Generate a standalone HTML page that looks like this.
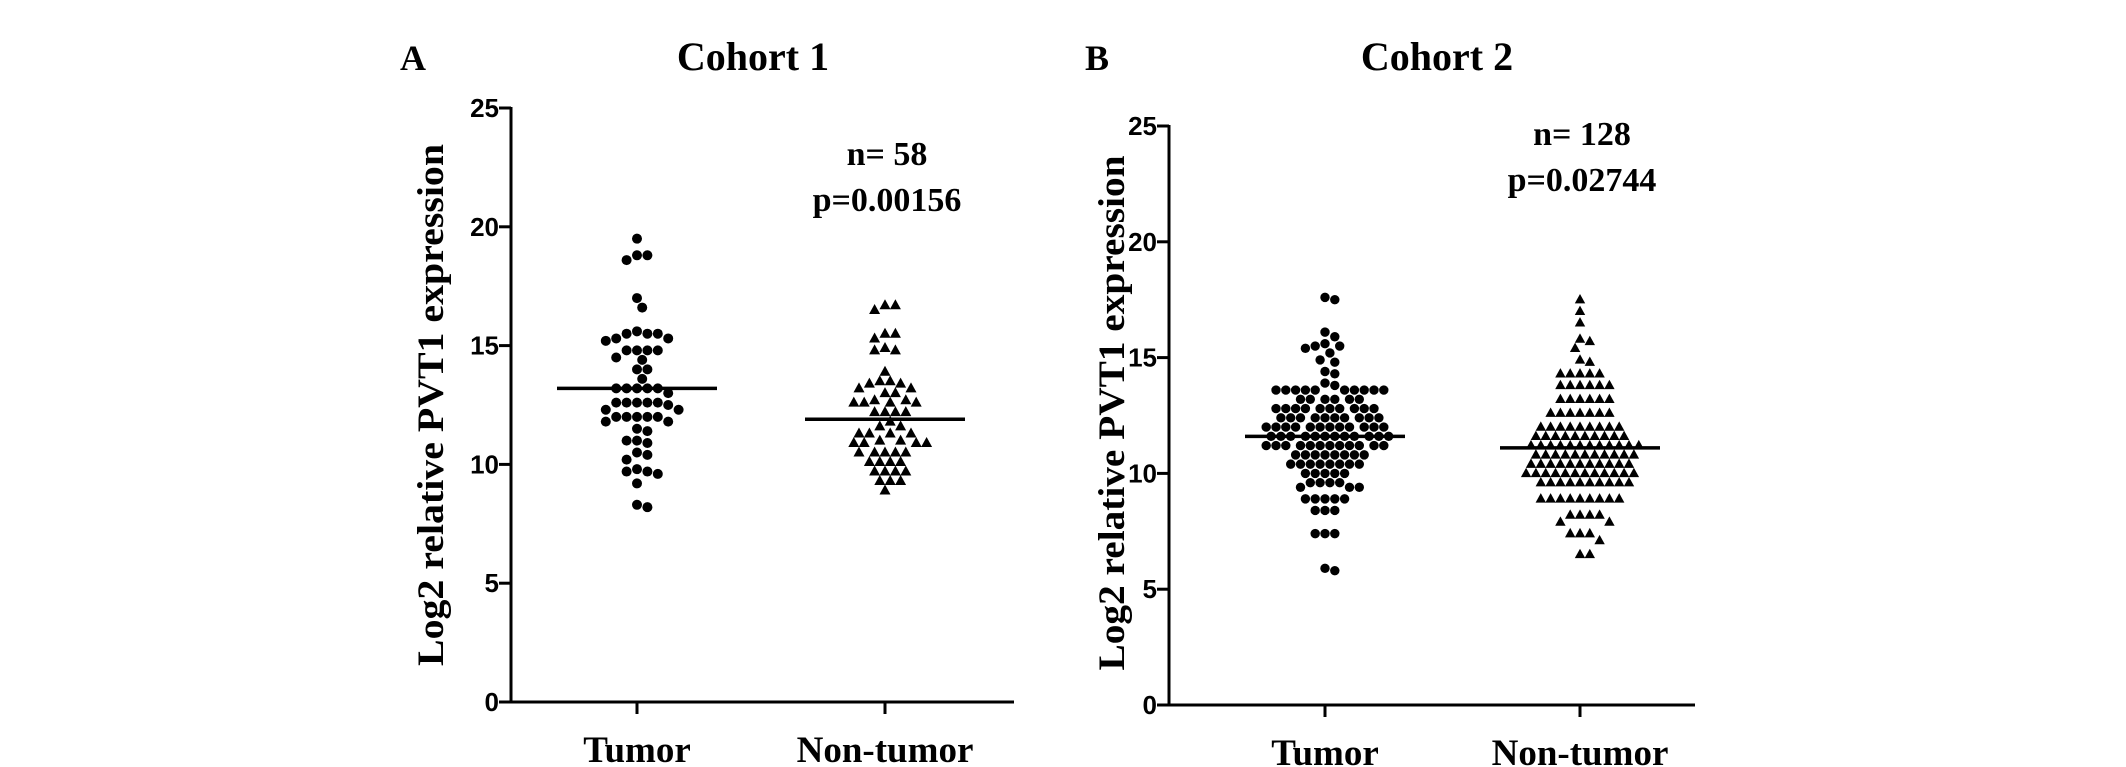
<!DOCTYPE html>
<html><head><meta charset="utf-8"><style>
html,body{margin:0;padding:0;background:#fff;}
svg{display:block;}
</style></head><body>
<svg id="chart" width="2126" height="767" viewBox="0 0 2126 767" xmlns="http://www.w3.org/2000/svg"></svg>
<script>
const categories = ["Tumor", "Non-tumor"];
const yTicks = [0, 5, 10, 15, 20, 25];
const c1Tumor = [19.5,18.8,18.6,18.8,17.0,16.6,15.5,15.3,15.2,15.6,15.5,15.3,15.5,14.8,14.8,14.8,14.8,14.0,14.0,14.5,14.4,13.6,13.2,13.2,13.2,13.2,13.2,13.0,12.6,12.6,12.6,12.5,12.3,12.6,12.6,12.3,12.0,12.0,11.8,12.0,11.8,12.0,12.0,11.5,11.4,11.0,10.9,11.0,10.4,10.5,10.2,9.7,9.6,9.8,9.7,9.2,8.2,8.3];
const c1Non = [16.7,16.5,16.7,15.5,15.3,15.5,14.8,14.8,14.9,13.9,13.5,13.4,13.5,13.4,13.2,13.0,13.0,13.2,12.7,12.6,12.6,12.6,12.6,12.7,12.2,12.2,12.2,12.2,11.6,11.8,11.6,11.3,11.3,11.3,11.3,10.9,10.9,11.0,10.9,10.9,11.0,10.5,10.5,10.5,10.5,10.5,10.1,10.1,10.1,10.1,9.7,9.7,9.7,9.7,9.3,9.3,9.3,8.9];
const c2Tumor = [17.6,17.5,16.1,15.9,15.6,15.5,15.4,15.2,15.5,14.9,14.8,14.4,14.3,13.9,13.8,
13.6,13.6,13.6,13.6,13.6,13.6,13.6,13.6,13.6,13.6,
13.2,13.2,13.2,13.2,13.2,13.2,
12.8,12.8,12.8,12.8,12.8,12.8,12.8,12.8,12.8,12.8,
12.4,12.4,12.4,12.4,12.4,12.4,12.4,12.4,12.4,12.4,
12.0,12.0,12.0,12.0,12.0,12.0,12.0,12.0,12.0,12.0,12.0,12.0,
11.6,11.6,11.6,11.6,11.6,11.6,11.6,11.6,11.6,11.6,11.6,11.6,
11.2,11.2,11.2,11.2,11.2,11.2,11.2,11.2,11.2,11.2,11.2,11.2,
10.8,10.8,10.8,10.8,10.8,10.8,10.8,10.8,
10.4,10.4,10.4,10.4,10.4,10.4,10.4,10.4,
10.0,10.0,10.0,10.0,10.0,
9.6,9.6,9.6,9.6,9.4,9.4,9.4,
8.9,8.9,8.9,8.9,8.9,8.4,8.4,8.4,7.4,7.4,7.4,5.9,5.8];
const c2Non = [17.5,17.0,16.5,15.8,15.7,15.4,14.9,14.8,
14.3,14.3,14.3,14.3,14.3,13.8,13.8,13.8,13.8,13.8,13.8,13.2,13.2,13.2,13.2,13.2,13.2,
12.6,12.6,12.6,12.6,12.6,12.6,12.6,
12.0,12.0,12.0,12.0,12.0,12.0,12.0,12.0,12.0,
11.6,11.6,11.6,11.6,11.6,11.6,11.6,11.6,11.6,11.6,
11.2,11.2,11.2,11.2,11.2,11.2,11.2,11.2,11.2,11.2,11.2,11.2,
10.8,10.8,10.8,10.8,10.8,10.8,10.8,10.8,10.8,10.8,10.8,
10.4,10.4,10.4,10.4,10.4,10.4,10.4,10.4,10.4,10.4,10.4,
10.0,10.0,10.0,10.0,10.0,10.0,10.0,10.0,10.0,10.0,10.0,10.0,
9.6,9.6,9.6,9.6,9.6,9.6,9.6,9.6,9.6,9.6,
8.9,8.9,8.9,8.9,8.9,8.9,8.9,8.9,8.9,
8.2,8.2,8.2,8.2,7.9,7.9,7.4,7.4,7.4,7.1,6.5,6.5];
const c1Means = [13.2, 11.9];
const c2Means = [11.6, 11.1];

const NS = "http://www.w3.org/2000/svg";
const svg = document.getElementById("chart");
function mk(tag, attrs, parent){
  const e = document.createElementNS(NS, tag);
  for (const k in attrs) e.setAttribute(k, attrs[k]);
  (parent||svg).appendChild(e);
  return e;
}
function txt(s, attrs, parent){ const t = mk("text", attrs, parent); t.textContent = s; return t; }

function beeswarm(vals, yScale, cx, minDist){
  const idx = vals.map((v,i)=>i).sort((a,b)=>vals[b]-vals[a]);
  const placed = [];
  const out = new Array(vals.length);
  const step = minDist/2;
  for (const i of idx){
    const y = yScale(vals[i]);
    let best = null;
    for (let k=0;k<80 && best===null;k++){
      const cands = k===0?[0]:[k*step, -k*step];
      for (const off of cands){
        const x = cx+off;
        if (placed.every(p => (p.x-x)**2+(p.y-y)**2 >= minDist*minDist-0.01)){ best = x; break; }
      }
    }
    placed.push({x:best,y:y});
    out[i] = {x:best,y:y};
  }
  return out;
}

function panel(cfg){
  const g = mk("g", {});
  
  
  const y = v => cfg.y0 - (v/25)*(cfg.y0-cfg.y25);
  const lbl = txt(cfg.letter, {x:cfg.letterX, y:70, "font-family":"Liberation Serif, serif", "font-weight":"bold", "font-size":36}, g);
  
  
  const title = txt(cfg.title, {x:cfg.titleX, y:70, "text-anchor":"middle", "font-family":"Liberation Serif, serif", "font-weight":"bold", "font-size":40}, g);
  
  
  const ya = mk("line", {x1:cfg.ax, y1:cfg.y25-1, x2:cfg.ax, y2:cfg.y0+1.5, stroke:"#000","stroke-width":3}, g);
  
  
  const xa = mk("line", {x1:cfg.ax-1.5, y1:cfg.y0, x2:cfg.axEnd, y2:cfg.y0, stroke:"#000","stroke-width":3}, g);
  
  
  yTicks.forEach(t=>{
    mk("line",{x1:cfg.ax-12,y1:y(t),x2:cfg.ax,y2:y(t),stroke:"#000","stroke-width":3},g);
    const tl = txt(String(t),{x:cfg.ax-12,y:y(t)+9,"text-anchor":"end","font-family":"Liberation Sans, sans-serif","font-weight":"bold","font-size":26},g);
    
    
  });
  const yt = txt("Log2 relative PVT1 expression",{x:0,y:0,transform:`translate(${cfg.ytX},${cfg.ytY}) rotate(-90)`,"text-anchor":"middle","font-family":"Liberation Serif, serif","font-weight":"bold","font-size":37,textLength:cfg.ytLen,lengthAdjust:"spacingAndGlyphs"},g);
  
  
  categories.forEach((c,i)=>{
    const cx = cfg.cats[i];
    mk("line",{x1:cx,y1:cfg.y0,x2:cx,y2:cfg.y0+12,stroke:"#000","stroke-width":3},g);
    const xl = txt(c,{x:cx,y:cfg.y0+60,"text-anchor":"middle","font-family":"Liberation Serif, serif","font-weight":"bold","font-size":37},g);
    
    
  });
  const series = [cfg.tumor, cfg.non];
  series.forEach((vals,si)=>{
    const pts = beeswarm(vals, y, cfg.cats[si], cfg.dist);
    pts.forEach(p=>{
      let m;
      if (si===0){
        m = mk("circle",{cx:p.x,cy:p.y,r:cfg.r,fill:"#000"},g);
        
      } else {
        m = mk("polygon",{points:`${p.x},${p.y-cfg.r-1} ${p.x+cfg.r+0.5},${p.y+cfg.r-1} ${p.x-cfg.r-0.5},${p.y+cfg.r-1}`,fill:"#000"},g);
        
      }
      
    });
    const ml = mk("line",{x1:cfg.cats[si]-80,y1:y(cfg.means[si]),x2:cfg.cats[si]+80,y2:y(cfg.means[si]),stroke:"#000","stroke-width":3.5},g);
    
    
  });
  const n = txt(cfg.n,{x:cfg.cats[1]+2,y:cfg.nY,"text-anchor":"middle","font-family":"Liberation Serif, serif","font-weight":"bold","font-size":34},g);
  
  
  const p = txt(cfg.p,{x:cfg.cats[1]+2,y:cfg.nY+46,"text-anchor":"middle","font-family":"Liberation Serif, serif","font-weight":"bold","font-size":34},g);
  
  
}

panel({name:"cohort-1-panel",letter:"A",letterX:400,title:"Cohort 1",titleX:753,ax:511,axEnd:1014,y0:702,y25:108,cats:[637,885],ytX:443,ytY:405,ytLen:522,dist:10.4,r:5,
  tumor:c1Tumor,non:c1Non,means:c1Means,n:"n= 58",p:"p=0.00156",nY:165});
panel({name:"cohort-2-panel",letter:"B",letterX:1085,title:"Cohort 2",titleX:1437,ax:1169,axEnd:1695,y0:705,y25:126,cats:[1325,1580],ytX:1124,ytY:413,ytLen:515,dist:9.8,r:4.7,
  tumor:c2Tumor,non:c2Non,means:c2Means,n:"n= 128",p:"p=0.02744",nY:145});
</script>
</body></html>
